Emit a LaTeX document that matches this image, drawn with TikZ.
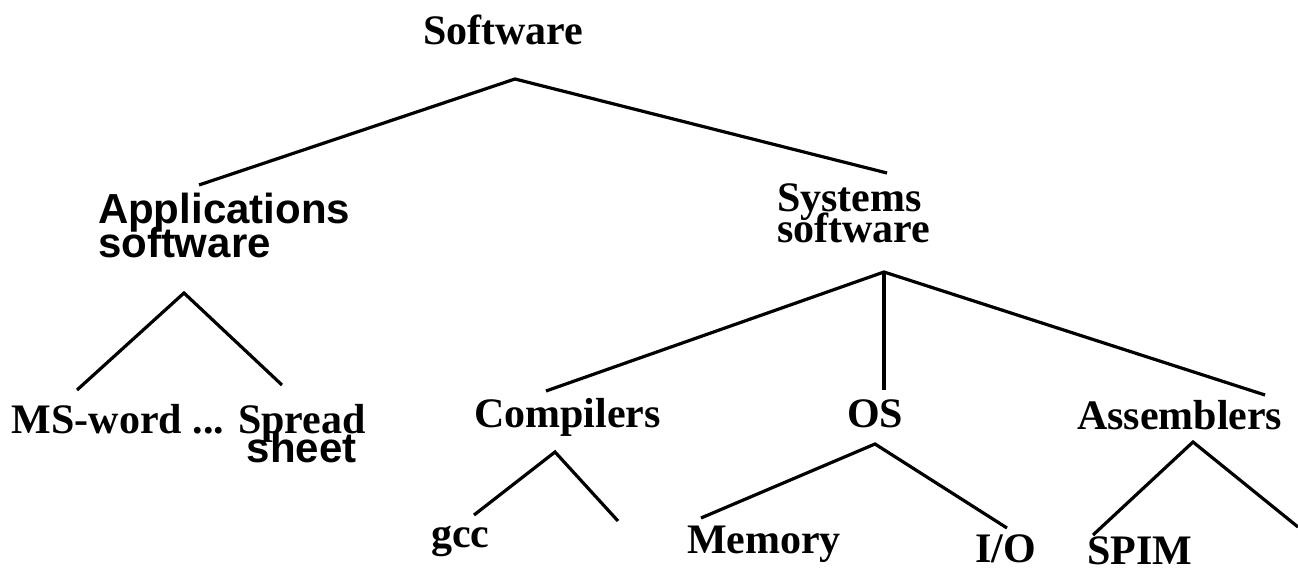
\documentclass[tikz,border=0pt]{standalone}
\usepackage{fontspec}
\setmainfont{Liberation Serif}
\newfontfamily\sansfam{Liberation Sans}
\lineskiplimit=-100pt\relax
\begin{document}
\begin{tikzpicture}[x=1pt,y=-1pt,
  lbl/.style={inner sep=0pt, outer sep=0pt, anchor=base west, font=\fontsize{42}{31}\selectfont\bfseries},
  sanslbl/.style={lbl, font=\fontsize{42}{34}\selectfont\sansfam\bfseries},
  branch/.style={draw=black, line width=3.2pt, line join=miter, line cap=butt}]
\useasboundingbox (0,0) rectangle (1298,569);
% labels (multi-line labels are anchored at the baseline of their last line)
\node[lbl] (sw) at (423,45) {Software};
\node[sanslbl, align=left] (apps) at (98,258) {Applications\\software};
\node[lbl, align=left] (sys) at (777,243) {Systems\\software};
\node[lbl] (msw) at (12,433) {MS-word ...};
\node[lbl, align=center, font=\fontsize{42}{29}\selectfont\bfseries] (spread) at (238,462) {Spread\\{\sansfam\bfseries sheet}};
\node[lbl] (comp) at (474,427) {Compilers};
\node[lbl] (os) at (847,427) {OS};
\node[lbl] (asm) at (1077,429) {Assemblers};
\node[lbl] (gcc) at (431,547) {gcc};
\node[lbl] (mem) at (687,553) {Memory};
\node[lbl] (io) at (975,562) {I/O};
\node[lbl] (spim) at (1087,564) {SPIM};
% branch points
\coordinate (swA) at (515,79);
\coordinate (swL) at (199,185);
\coordinate (swR) at (887,173);
\coordinate (appA) at (184,293);
\coordinate (appL) at (77,390);
\coordinate (appR) at (282,385);
\coordinate (sysA) at (884,272);
\coordinate (sysL) at (546,391);
\coordinate (sysM) at (884,390);
\coordinate (sysR) at (1265,395);
\coordinate (cmpA) at (555,452);
\coordinate (cmpL) at (474,515);
\coordinate (cmpR) at (618,521);
\coordinate (osA) at (875,444);
\coordinate (osL) at (701,518);
\coordinate (osR) at (1007,528);
\coordinate (asA) at (1193,442);
\coordinate (asL) at (1093,535);
\coordinate (asR) at (1298,527);
% connectors
\draw[branch] (swL) -- (swA) -- (swR);
\draw[branch] (appL) -- (appA) -- (appR);
\draw[branch] (sysL) -- (sysA) -- (sysR);
\draw[branch] (sysA) -- (sysM);
\draw[branch] (cmpL) -- (cmpA) -- (cmpR);
\draw[branch] (osL) -- (osA) -- (osR);
\draw[branch] (asL) -- (asA) -- (asR);
\end{tikzpicture}
\end{document}
